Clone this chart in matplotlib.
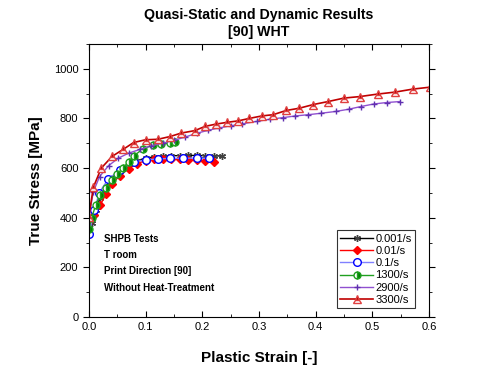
import matplotlib
matplotlib.use("Agg")
import matplotlib.pyplot as plt
from matplotlib.ticker import MultipleLocator, FormatStrFormatter

plt.rcParams['font.family'] = ['Liberation Sans', 'DejaVu Sans']

# strain [-] / stress [MPa]
s_0001 = [0, 0.005, 0.012, 0.02, 0.03, 0.04, 0.055, 0.07, 0.085, 0.1, 0.115, 0.13, 0.145, 0.16, 0.175, 0.19, 0.205, 0.22, 0.235]
y_0001 = [340, 380, 430, 480, 525, 560, 595, 615, 630, 640, 645, 648, 650, 650, 651, 651, 650, 650, 648]

s_001 = [0.003, 0.01, 0.02, 0.03, 0.04, 0.055, 0.07, 0.085, 0.1, 0.115, 0.13, 0.145, 0.16, 0.175, 0.19, 0.205, 0.22]
y_001 = [395, 410, 450, 495, 535, 570, 598, 618, 630, 636, 638, 638, 636, 634, 632, 630, 625]

s_01 = [0, 0.01, 0.018, 0.034, 0.055, 0.08, 0.1, 0.122, 0.144, 0.166, 0.19, 0.212]
y_01 = [335, 430, 500, 555, 593, 625, 633, 637, 639, 640, 640, 639]

s_1300 = [0, 0.005, 0.012, 0.02, 0.03, 0.04, 0.05, 0.06, 0.07, 0.08, 0.095, 0.113, 0.128, 0.144, 0.152]
y_1300 = [355, 400, 450, 490, 520, 550, 575, 600, 625, 650, 677, 693, 698, 700, 705]

s_2900 = [0, 0.008, 0.019, 0.035, 0.052, 0.07, 0.09, 0.11, 0.13, 0.15, 0.17, 0.19, 0.21, 0.23, 0.25, 0.27,
          0.296, 0.32, 0.342, 0.364, 0.387, 0.41, 0.435, 0.458, 0.48, 0.502, 0.525, 0.549]
y_2900 = [400, 505, 566, 610, 640, 660, 675, 690, 700, 712, 725, 740, 752, 762, 770, 778,
          788, 797, 803, 810, 815, 821, 828, 837, 848, 858, 864, 868]

s_3300 = [0, 0.008, 0.022, 0.041, 0.061, 0.079, 0.10, 0.122, 0.143, 0.163, 0.187, 0.205, 0.224, 0.243,
          0.263, 0.283, 0.305, 0.325, 0.348, 0.371, 0.396, 0.422, 0.45, 0.478, 0.509, 0.54, 0.571, 0.602]
y_3300 = [404, 523, 600, 647, 676, 703, 714, 716, 727, 741, 751, 768, 777, 784,
          790, 800, 810, 815, 832, 841, 856, 868, 882, 888, 898, 906, 918, 926]

notes = ['SHPB Tests', 'T room', 'Print Direction [90]', 'Without Heat-Treatment']

fig = plt.figure(figsize=(4.99, 3.82), dpi=100)
ax = fig.add_axes([0.178, 0.170, 0.682, 0.715])

ax.plot(s_0001, y_0001, color='black', lw=1, marker=(6, 2, 0), ms=5, mec='#404040', label='0.001/s')
ax.plot(s_001, y_001, color='red', lw=1, marker='D', ms=4, mfc='red', mec='red', label='0.01/s')
ax.plot(s_01, y_01, color='#8080ff', lw=1, marker='o', ms=5.5, mfc='white', mec='blue', label='0.1/s')
ax.plot(s_1300, y_1300, color='#20a020', lw=1, marker='o', ms=5, fillstyle='right',
        mfc='#008000', mfcalt='white', mec='#20a020', label='1300/s')
ax.plot(s_2900, y_2900, color='#9050d0', lw=1, marker='+', ms=5, mec='#6030b0', label='2900/s')
ax.plot(s_3300, y_3300, color='#c00000', lw=1.2, marker='^', ms=5.5, fillstyle='top',
        mfc='#b00000', mfcalt='white', mec='#e04040', label='3300/s')

ax.set_xlim(0, 0.6)
ax.set_ylim(0, 1100)
ax.xaxis.set_major_locator(MultipleLocator(0.1))
ax.xaxis.set_minor_locator(MultipleLocator(0.05))
ax.xaxis.set_major_formatter(FormatStrFormatter('%.1f'))
ax.set_yticks(range(0, 1001, 200))
ax.yaxis.set_minor_locator(MultipleLocator(100))
ax.tick_params(axis='both', which='both', labelsize=8, top=True, right=True)
ax.tick_params(axis='x', which='both', direction='in')
ax.tick_params(axis='y', which='both', direction='out')
ax.tick_params(axis='both', which='major', length=4)
ax.tick_params(axis='both', which='minor', length=2.5)

ax.set_xlabel('Plastic Strain [-]', fontsize=11, fontweight='bold', labelpad=14)
ax.set_ylabel('True Stress [MPa]', fontsize=11, fontweight='bold', labelpad=8)
ax.set_title('Quasi-Static and Dynamic Results\n[90] WHT', fontsize=10.2, fontweight='bold', pad=6)

for i, t in enumerate(notes):
    ax.text(0.045, 0.285 - i * 0.059, t, transform=ax.transAxes, fontsize=7, fontweight='bold', va='center')

leg = ax.legend(loc='lower right', fontsize=8, frameon=True, fancybox=False, edgecolor='black',
                handlelength=3.0, handletextpad=0.2, labelspacing=0.2, borderpad=0.3,
                bbox_to_anchor=(0.975, 0.012))
leg.get_frame().set_linewidth(0.8)

fig.savefig('out.png', dpi=100)
